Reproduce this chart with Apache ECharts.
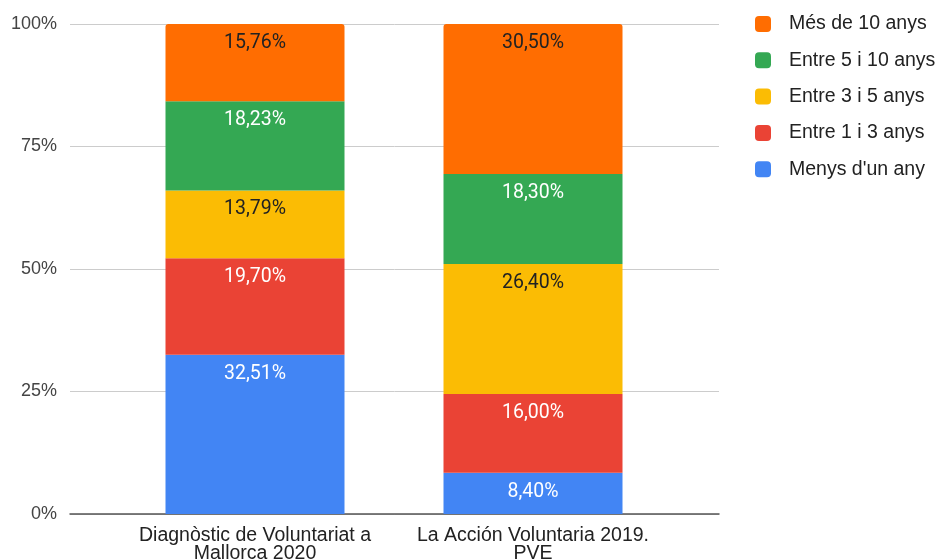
<!DOCTYPE html>
<html>
<head>
<meta charset="utf-8">
<script src="https://cdn.jsdelivr.net/npm/echarts@6/dist/echarts.min.js"></script>
<style>
  html, body { margin: 0; padding: 0; background: #fff; }
  #chart { width: 940px; height: 560px; }
</style>
</head>
<body>
<div id="chart"></div>
<script>
// categories + series (stacked from bottom to top), values in %
const categories = ['Diagnòstic de Voluntariat a\nMallorca 2020', 'La Acción Voluntaria 2019.\nPVE'];
const menysUnAny = [32.51, 8.40];
const entre1i3 = [19.70, 16.00];
const entre3i5 = [13.79, 26.40];
const entre5i10 = [18.23, 18.30];
const mesDe10 = [15.76, 30.50];
const yTicks = [0, 25, 50, 75, 100];

const seriesDefs = [
    { name: "Menys d'un any", data: menysUnAny, color: '#4285F4', text: '#ffffff' },
    { name: 'Entre 1 i 3 anys', data: entre1i3, color: '#EA4335', text: '#ffffff' },
    { name: 'Entre 3 i 5 anys', data: entre3i5, color: '#FBBC04', text: '#222222' },
    { name: 'Entre 5 i 10 anys', data: entre5i10, color: '#34A853', text: '#ffffff' },
    { name: 'Més de 10 anys', data: mesDe10, color: '#FF6D01', text: '#222222' }
];

// 100% stacked: each column is scaled to its own total, labels keep the raw value
const totals = categories.map((c, i) => seriesDefs.reduce((sum, s) => sum + s.data[i], 0));

function fmt(v) {
    return v.toFixed(2).replace('.', ',') + '%';
}

const sans = 'Liberation Sans, Arial, sans-serif';
const chart = echarts.init(document.getElementById('chart'));

const option = {
    backgroundColor: '#fff',
    textStyle: { fontFamily: sans },
    legend: {
        orient: 'vertical',
        left: 750,
        top: 9,
        padding: 5,
        itemWidth: 16,
        itemHeight: 16,
        itemGap: 16.3,
        icon: 'roundRect',
        data: seriesDefs.map(s => s.name).reverse(),
        textStyle: { fontSize: 19.5, lineHeight: 20, color: '#222', fontFamily: sans, padding: [0, 0, 0, 13] }
    },
    grid: [
        // full plot frame: gridlines + y labels + baseline
        { left: 70, right: 221, top: 24, bottom: 46, containLabel: false, outerBoundsMode: 'none' },
        // narrower band area for the bars
        { left: 116, right: 268, top: 24, bottom: 46, containLabel: false, outerBoundsMode: 'none' }
    ],
    xAxis: [
        {
            gridIndex: 0,
            type: 'value',
            min: 0,
            max: 1,
            axisLine: { show: true, lineStyle: { color: '#555', width: 1.5 } },
            axisTick: { show: false },
            axisLabel: { show: false },
            splitLine: { show: false }
        },
        {
            gridIndex: 1,
            type: 'category',
            data: categories,
            axisTick: { show: false },
            axisLine: { show: false },
            axisLabel: {
                fontSize: 19.5,
                color: '#222',
                fontFamily: sans,
                lineHeight: 18,
                margin: 13,
                interval: 0
            }
        }
    ],
    yAxis: [
        {
            gridIndex: 0,
            type: 'value',
            min: 0,
            max: 100,
            interval: 25,
            axisLine: { show: false },
            axisTick: { show: false },
            axisLabel: {
                fontSize: 18,
                color: '#444',
                fontFamily: sans,
                margin: 13,
                formatter: function (v) {
                    return yTicks.includes(v) ? v + '%' : '';
                }
            },
            splitLine: { lineStyle: { color: '#cccccc' } }
        },
        {
            gridIndex: 1,
            type: 'value',
            min: 0,
            max: 100,
            show: false
        }
    ],
    series: seriesDefs.map((s, i) => ({
        name: s.name,
        type: 'bar',
        xAxisIndex: 1,
        yAxisIndex: 1,
        stack: 'total',
        barWidth: 179,
        data: s.data.map((v, j) => ({ value: v / totals[j] * 100, raw: v })),
        itemStyle: {
            color: s.color,
            borderRadius: i === seriesDefs.length - 1 ? [3, 3, 0, 0] : 0
        },
        label: {
            show: true,
            position: 'insideTop',
            distance: 9,
            fontSize: 19.5,
            fontFamily: 'Roboto, sans-serif',
            color: s.text,
            formatter: p => fmt(p.data.raw)
        }
    }))
};

chart.setOption(option);
</script>
</body>
</html>
